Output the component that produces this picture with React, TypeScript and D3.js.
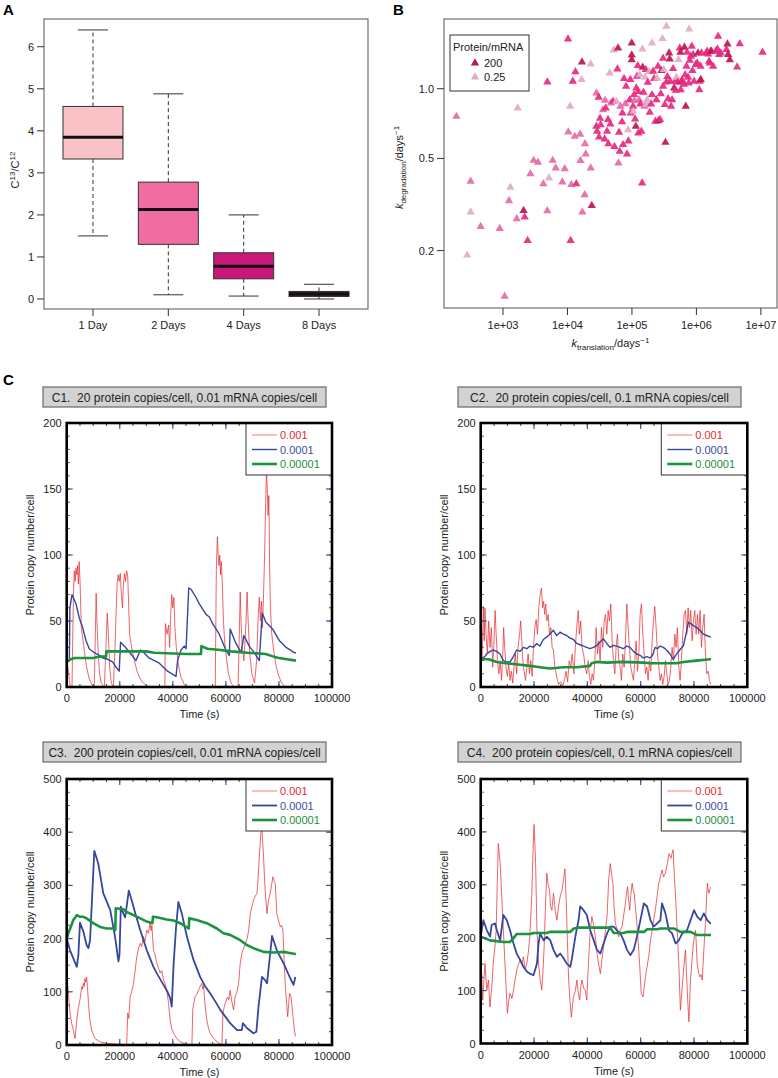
import React from 'react';
import * as d3 from 'd3';

const FONT = "'Liberation Sans', Arial, Helvetica, sans-serif";

// ---------------- Panel A data ----------------
const boxCategories = ['1 Day', '2 Days', '4 Days', '8 Days'];
const boxMin = [1.5, 0.1, 0.07, 0.0];
const boxQ1 = [3.33, 1.3, 0.48, 0.06];
const boxMedian = [3.85, 2.13, 0.78, 0.12];
const boxQ3 = [4.58, 2.78, 1.1, 0.18];
const boxMax = [6.4, 4.88, 2.0, 0.35];
const boxColors = ['#f9c2c6', '#f06ca1', '#c8187c', '#4a1846'];
const boxYTicks = [0, 1, 2, 3, 4, 5, 6];

// ---------------- Panel B data ----------------
// [k_translation, k_degradation, protein/mRNA]
const bPoints: [number, number, number][] = [
  [189, 0.759, 2], [315, 0.398, 2], [315, 0.293, 0.25], [450, 0.254, 2], [279, 0.191, 0.25],
  [890, 0.249, 2], [1060, 0.127, 2], [1300, 0.375, 0.25], [1240, 0.328, 2], [1630, 0.274, 2],
  [1690, 0.825, 0.25], [2090, 0.298, 200], [2170, 0.279, 20], [2410, 0.221, 20], [2660, 0.429, 2],
  [2990, 0.49, 2], [3490, 0.481, 2], [4230, 0.388, 2], [4880, 1.068, 20], [4880, 0.297, 2],
  [5170, 0.411, 0.25], [5900, 0.49, 2], [6570, 0.454, 2], [8330, 0.395, 2], [9060, 0.451, 2],
  [1.02e4, 1.638, 20], [1.03e4, 0.65, 2], [1.12e4, 0.221, 20], [1.1e4, 0.839, 0.25], [1.15e4, 0.385, 2],
  [1.21e4, 1.076, 20], [1.33e4, 1.184, 20], [1.3e4, 0.622, 2], [1.37e4, 0.388, 20], [1.57e4, 0.635, 2],
  [1.68e4, 1.304, 200], [1.66e4, 1.094, 0.25], [1.59e4, 0.489, 2], [1.7e4, 0.293, 2], [1.85e4, 0.348, 2],
  [1.87e4, 0.578, 2], [1.92e4, 0.522, 2], [2.29e4, 0.454, 2], [2.38e4, 0.313, 200], [2.29e4, 1.278, 0.25],
  [2.81e4, 0.958, 2], [2.81e4, 0.688, 20], [2.88e4, 0.654, 20], [3.09e4, 0.618, 20], [3.05e4, 0.918, 20],
  [3.2e4, 0.745, 20], [3.28e4, 0.699, 20], [3.56e4, 0.811, 2], [3.78e4, 0.606, 20], [3.83e4, 0.89, 2],
  [3.92e4, 0.825, 20], [4.11e4, 0.654, 20], [4.26e4, 0.735, 20], [4.31e4, 0.578, 20], [4.52e4, 1.169, 0.25],
  [4.63e4, 0.704, 20], [4.74e4, 0.867, 2], [5.09e4, 0.882, 20], [5.22e4, 1.469, 0.25], [5.35e4, 0.563, 20],
  [5.74e4, 0.882, 0.25], [5.95e4, 1.216, 20], [6.09e4, 1.498, 200], [6.17e4, 0.477, 2], [6.31e4, 0.648, 20],
  [6.47e4, 0.536, 20], [6.62e4, 0.839, 2], [7.03e4, 0.72, 20], [7.11e4, 0.785, 20], [7.28e4, 0.573, 20],
  [7.55e4, 1.105, 20], [7.92e4, 0.861, 2], [8.11e4, 1.023, 20], [8.4e4, 0.522, 20], [8.71e4, 0.665, 0.25],
  [8.81e4, 0.594, 20], [9.24e4, 0.896, 20], [9.46e4, 1.094, 20], [9.57e4, 0.785, 20], [9.93e4, 1.575, 200],
  [9.93e4, 1.398, 200], [9.93e4, 1.334, 200], [1.04e5, 0.839, 20], [1.05e5, 0.798, 0.25], [1.08e5, 0.942, 20],
  [1.09e5, 0.888, 2], [1.12e5, 0.74, 20], [1.15e5, 0.688, 200], [1.17e5, 1.007, 20], [1.2e5, 1.131, 20],
  [1.23e5, 1.257, 20], [1.25e5, 0.971, 20], [1.26e5, 0.643, 20], [1.29e5, 0.896, 2], [1.32e5, 1.149, 0.25],
  [1.35e5, 0.859, 20], [1.4e5, 0.654, 20], [1.44e5, 0.391, 20], [1.45e5, 1.483, 0.25], [1.47e5, 1.236, 200],
  [1.51e5, 0.964, 20], [1.56e5, 0.839, 2], [1.6e5, 1.119, 0.25], [1.64e5, 1.208, 20], [1.68e5, 0.859, 0.25],
  [1.72e5, 0.896, 0.25], [1.76e5, 1.065, 20], [1.85e5, 1.184, 0.25], [1.89e5, 0.79, 20], [1.98e5, 0.859, 20],
  [2.05e5, 1.575, 0.25], [2.05e5, 0.942, 20], [2.13e5, 1.188, 20], [2.21e5, 1.105, 20], [2.31e5, 0.723, 20],
  [2.4e5, 0.896, 20], [2.46e5, 1.108, 0.25], [2.54e5, 1.249, 20], [2.58e5, 0.727, 200], [2.73e5, 0.735, 20],
  [2.8e5, 0.951, 20], [2.87e5, 1.196, 200], [2.97e5, 1.644, 0.25], [3.04e5, 1.352, 20], [3.04e5, 1.023, 20],
  [3.12e5, 1.208, 0.25], [3.23e5, 0.853, 20], [3.31e5, 0.586, 200], [3.43e5, 1.068, 20], [3.43e5, 1.859, 0.25],
  [3.55e5, 1.127, 20], [3.64e5, 0.905, 20], [3.77e5, 1.426, 200], [3.86e5, 1.343, 200], [3.91e5, 1.076, 20],
  [4.05e5, 0.839, 20], [4.2e5, 0.896, 20], [4.35e5, 1.22, 20], [4.51e5, 1.007, 200], [4.67e5, 1.076, 20],
  [4.78e5, 0.983, 20], [4.9e5, 1.119, 0.25], [5.14e5, 1.065, 20], [5.26e5, 1.334, 0.25], [5.52e5, 1.498, 20],
  [5.65e5, 1.435, 200], [5.72e5, 0.99, 20], [5.86e5, 1.076, 200], [6.07e5, 1.083, 20], [6.37e5, 1.044, 20],
  [6.52e5, 1.508, 200], [6.68e5, 1.149, 20], [6.84e5, 0.839, 200], [7.0e5, 1.249, 20], [7.17e5, 1.435, 20],
  [7.43e5, 1.119, 20], [7.62e5, 1.058, 20], [7.71e5, 1.81, 0.25], [7.89e5, 1.326, 20], [8.18e5, 1.379, 20],
  [8.48e5, 1.523, 20], [8.68e5, 1.196, 20], [8.89e5, 1.403, 20], [9.21e5, 1.076, 20], [9.77e5, 1.27, 20],
  [1.03e6, 1.291, 20], [1.06e6, 1.426, 200], [1.11e6, 0.99, 20], [1.13e6, 1.076, 20], [1.16e6, 1.249, 20],
  [1.17e6, 1.094, 200], [1.2e6, 1.426, 20], [1.43e6, 1.426, 20], [1.47e6, 1.45, 20], [1.52e6, 1.412, 20],
  [1.57e6, 1.313, 20], [1.61e6, 1.291, 20], [1.65e6, 1.45, 20], [1.71e6, 1.45, 200], [1.82e6, 1.249, 20],
  [2.0e6, 1.45, 20], [2.12e6, 1.483, 20], [2.17e6, 1.683, 20], [2.25e6, 1.403, 20], [2.39e6, 1.426, 20],
  [2.92e6, 1.474, 20], [3.03e6, 1.559, 200], [3.1e6, 1.403, 200], [3.3e6, 1.334, 200], [4.28e6, 1.24, 20],
  [4.71e6, 1.564, 20], [1.06e7, 1.435, 20],
];
const bXTicks = [1e3, 1e4, 1e5, 1e6, 1e7];
const bXTickLabels = ['1e+03', '1e+04', '1e+05', '1e+06', '1e+07'];
const bYTicks = [0.2, 0.5, 1.0];
const bYTickLabels = ['0.2', '0.5', '1.0'];
const bLegendRatios = [200, 0.25];
const bLegendLabels = ['200', '0.25'];

// ---------------- Panel C data ----------------
type Series = [number, number][];
const legendLabels = ['0.001', '0.0001', '0.00001'];

const c1Red: Series = [
  [0, 28], [500, 15], [1000, 5], [1500, 0], [2000, 0], [2300, 40], [2600, 75], [2900, 88], [3200, 80], [3500, 90],
  [3800, 85], [4100, 92], [4400, 78], [4700, 95], [5000, 82], [5300, 60], [5500, 45], [6000, 38], [6800, 25], [7500, 15],
  [8500, 6], [9800, 1], [10400, 0], [10800, 40], [11100, 71], [11400, 50], [11800, 30], [12300, 12], [13000, 3], [14200, 0],
  [14800, 30], [15300, 56], [15700, 40], [16200, 15], [16800, 3], [17600, 0], [18200, 30], [18600, 55], [19000, 78], [19400, 85],
  [19800, 80], [20200, 86], [20600, 70], [21000, 60], [21400, 78], [21800, 86], [22200, 80], [22600, 88], [23000, 84], [23400, 60],
  [23700, 40], [24500, 30], [25500, 20], [26500, 12], [28000, 5], [30000, 1], [31000, 0], [37000, 0], [37200, 48], [37800, 40],
  [38400, 47], [38800, 30], [39200, 55], [39600, 70], [40000, 60], [40400, 68], [40800, 45], [41300, 30], [42000, 18], [43000, 8],
  [44300, 2], [45500, 0], [56000, 0], [56400, 90], [56800, 114], [57100, 100], [57400, 92], [57700, 100], [58000, 85], [58300, 95],
  [58700, 75], [59100, 50], [59500, 35], [60200, 22], [61000, 10], [62000, 3], [63000, 0], [64600, 0], [65000, 35], [65400, 72],
  [65800, 45], [66200, 30], [66800, 20], [67500, 45], [68000, 72], [68400, 50], [69000, 25], [69800, 10], [70800, 3], [71600, 20],
  [72200, 55], [72600, 68], [73000, 50], [73400, 65], [73800, 45], [74200, 70], [74600, 100], [75000, 140], [75300, 165], [75600, 150],
  [75900, 130], [76200, 145], [76500, 90], [76800, 60], [77300, 40], [78000, 28], [79000, 15], [80000, 8], [81000, 3], [82500, 0],
  [86400, 0],
];
const c1Blue: Series = [
  [0, 20], [1000, 20], [1200, 60], [2000, 70], [3500, 63], [4800, 52], [6000, 45], [7300, 35], [8500, 29], [10400, 26],
  [12300, 24], [13600, 22], [15500, 21], [17300, 19], [18600, 15], [19800, 12], [20300, 34], [21700, 31], [23000, 28], [24200, 25],
  [26100, 20], [27800, 28], [28600, 27], [31000, 22], [34900, 18], [38000, 12], [41200, 8], [41800, 20], [43100, 28], [44300, 31],
  [45000, 29], [46000, 75], [46900, 74], [48700, 68], [50000, 63], [52500, 55], [53800, 53], [55000, 48], [57500, 40], [60000, 28],
  [61300, 24], [61600, 44], [63800, 33], [65700, 26], [66800, 39], [68800, 31], [70700, 26], [72600, 20], [73700, 56], [75100, 49],
  [77600, 44], [80200, 35], [82700, 30], [85800, 26], [86400, 26],
];
const c1Green: Series = [
  [0, 19], [1500, 21], [3000, 22], [10000, 22], [12000, 23], [14800, 23], [15000, 27], [30000, 27], [33000, 26], [45000, 25],
  [50600, 25], [50800, 31], [53000, 29], [58000, 28], [62000, 27], [68000, 26], [75000, 25], [78000, 23], [80000, 22], [83000, 21],
  [86400, 20],
];

const c2Red: Series = [
  [0, 30], [500, 20], [1000, 61], [1300, 35], [1600, 60], [2000, 40], [2500, 25], [3000, 50], [3500, 30], [4000, 45],
  [4500, 15], [5000, 35], [5400, 58], [5800, 40], [6300, 20], [6800, 10], [7300, 20], [7800, 5], [8300, 25], [8600, 45],
  [9000, 30], [9500, 15], [10000, 8], [10500, 18], [11000, 5], [11500, 12], [12000, 3], [12500, 15], [13000, 25], [13500, 10],
  [14000, 30], [14600, 40], [15000, 50], [15400, 35], [15800, 20], [16300, 12], [16800, 5], [17300, 15], [17800, 25], [18300, 10],
  [18800, 20], [19300, 8], [19800, 30], [20300, 45], [20800, 51], [21300, 40], [21800, 60], [22300, 70], [22800, 75], [23200, 60],
  [23600, 65], [24000, 55], [24400, 63], [24800, 50], [25300, 55], [25800, 40], [26300, 45], [26800, 30], [27300, 28], [27800, 15],
  [28300, 10], [28800, 5], [29300, 2], [30000, 4], [30800, 1], [31500, 6], [32000, 12], [32600, 4], [33200, 20], [33800, 15],
  [34300, 25], [35000, 10], [35500, 30], [36000, 45], [36600, 58], [37000, 40], [37500, 50], [38000, 30], [38600, 25], [39200, 15],
  [39800, 10], [40300, 20], [40800, 8], [41300, 2], [41800, 10], [42300, 5], [42800, 20], [43300, 45], [43800, 25], [44300, 35],
  [44800, 20], [45300, 45], [45800, 30], [46300, 50], [46800, 55], [47300, 40], [47800, 58], [48300, 50], [48800, 63], [49300, 35],
  [49800, 20], [50300, 10], [50800, 30], [51300, 40], [51800, 20], [52300, 15], [52800, 5], [53300, 25], [53800, 15], [54300, 35],
  [54800, 63], [55300, 45], [55800, 30], [56300, 15], [56800, 10], [57300, 5], [57800, 20], [58300, 35], [58800, 12], [59300, 25],
  [59800, 55], [60300, 63], [60800, 40], [61300, 25], [61800, 10], [62300, 15], [62800, 5], [63300, 20], [63800, 12], [64300, 35],
  [64800, 50], [65300, 61], [65800, 45], [66300, 25], [66800, 15], [67300, 5], [67800, 10], [68300, 2], [68800, 8], [69300, 20],
  [69800, 10], [70300, 2], [70800, 5], [71300, 15], [71800, 30], [72300, 20], [72800, 40], [73300, 30], [73800, 45], [74300, 15],
  [74800, 5], [75300, 20], [75800, 40], [76300, 55], [76800, 58], [77300, 40], [77800, 60], [78300, 45], [78800, 58], [79300, 35],
  [79800, 50], [80300, 58], [80800, 40], [81300, 55], [81800, 40], [82300, 58], [82800, 30], [83300, 45], [83800, 55], [84300, 25],
  [84800, 10], [85300, 12], [85800, 5], [86300, 2],
];
const c2Blue: Series = [
  [0, 21], [1500, 23], [2250, 25], [3500, 27], [4750, 28], [6000, 27], [7250, 25], [8500, 20], [9750, 19], [11000, 19],
  [12250, 23], [13500, 28], [14800, 27], [16000, 30], [17300, 29], [18500, 31], [19800, 30], [21000, 33], [22200, 31], [23500, 36],
  [24800, 38], [26000, 40], [27250, 43], [28500, 39], [29750, 41.5], [31000, 40], [32250, 39], [33500, 37], [34800, 36], [36000, 33],
  [37300, 32], [38500, 31], [39800, 30], [41000, 29], [42300, 30], [43500, 31.5], [44800, 34], [46000, 36.5], [47300, 33], [48500, 30],
  [49800, 31.5], [51000, 31], [52300, 30], [53500, 29], [54800, 31], [56000, 30], [57300, 27], [58500, 25], [59800, 24], [61000, 22],
  [62300, 23], [63500, 22], [64500, 24], [65400, 30], [66300, 29], [67250, 31], [68500, 30], [69750, 28], [71000, 25], [72250, 21],
  [73100, 24], [74100, 26.5], [75000, 29], [76000, 31], [77000, 40], [77900, 49], [78800, 48], [79750, 46.5], [81000, 45], [82250, 43],
  [83500, 40], [84750, 39], [86000, 38], [86400, 38],
];
const c2Green: Series = [
  [0, 21], [3000, 21], [6000, 19], [9700, 18], [14000, 17], [18500, 16], [22300, 15], [26000, 14], [31000, 15], [36000, 15],
  [41000, 16], [41600, 18], [43500, 19], [47300, 18.5], [53000, 19], [61000, 18.5], [63500, 18], [70000, 18], [73500, 18], [76000, 19],
  [81000, 20], [86000, 21], [86400, 21],
];

const c3Red: Series = [
  [0, 141], [600, 100], [1260, 60], [1900, 40], [2500, 28], [3100, 12], [3500, 30], [3800, 47], [4400, 70], [5000, 85],
  [5400, 100], [5700, 110], [6000, 105], [6300, 116], [6600, 110], [6900, 125], [7200, 118], [7500, 128], [7800, 110], [8200, 80],
  [8600, 53], [9400, 28], [10700, 12], [12600, 6], [15100, 3], [20100, 1], [22600, 0], [23000, 60], [23400, 50], [23900, 91],
  [24500, 100], [25200, 116], [25800, 140], [26400, 166], [27000, 180], [27700, 191], [28300, 185], [28900, 204], [29500, 195], [30200, 216],
  [30800, 210], [31400, 229], [31800, 215], [32100, 225], [32700, 178], [33300, 170], [34000, 153], [34600, 145], [35200, 135], [35800, 140],
  [36500, 122], [37100, 115], [37700, 103], [38400, 78], [39000, 47], [39600, 30], [40300, 22], [41500, 12], [42800, 6], [45300, 1],
  [47200, 0], [47500, 66], [48000, 80], [48400, 91], [49000, 95], [49700, 103], [50300, 110], [50900, 116], [51300, 105], [51600, 112],
  [52200, 72], [52800, 47], [53500, 30], [54100, 22], [55500, 12], [56600, 6], [58500, 0], [58900, 60], [59300, 70], [59700, 78],
  [60600, 90], [61100, 85], [61600, 103], [62300, 80], [62900, 66], [63500, 91], [64200, 100], [64800, 116], [65400, 153], [66000, 172],
  [66600, 180], [67300, 191], [68000, 200], [68600, 216], [69200, 247], [69800, 260], [70400, 272], [71100, 280], [71700, 285], [72000, 300],
  [72300, 329], [72800, 370], [73200, 398], [73600, 404], [73900, 380], [74200, 354], [74500, 320], [74800, 291], [75200, 265], [75500, 247],
  [76000, 270], [76700, 285], [77200, 300], [77700, 316], [78200, 308], [78600, 304], [79200, 247], [79800, 235], [80500, 222], [81000, 225],
  [81500, 216], [82000, 153], [82400, 110], [82800, 85], [83300, 53], [83700, 80], [84000, 97], [84500, 92], [84900, 75], [85300, 53],
  [85800, 30], [86200, 16],
];
const c3Blue: Series = [
  [0, 200], [1260, 178], [2500, 163], [3800, 147], [4400, 169], [5000, 230], [6300, 213], [7500, 188], [8200, 182], [8800, 197],
  [9600, 280], [10400, 365], [11900, 341], [13800, 285], [16400, 254], [18200, 204], [19500, 157], [19900, 170], [20400, 260], [21400, 247],
  [22000, 240], [22600, 260], [23400, 290], [24500, 272], [26000, 245], [27700, 216], [30200, 178], [32700, 147], [34500, 130], [36500, 113],
  [38000, 100], [39000, 88], [39600, 72], [40300, 153], [41200, 220], [42100, 269], [43400, 247], [45300, 204], [47800, 160], [50300, 128],
  [52000, 112], [54100, 97], [56000, 82], [57900, 66], [60000, 52], [61600, 41], [64200, 28], [66000, 28], [66400, 41], [67900, 32],
  [70400, 22], [71500, 25], [72300, 72], [73600, 128], [74800, 122], [75500, 116], [76700, 172], [77400, 205], [79200, 178], [81800, 153],
  [84300, 125], [85500, 113], [86200, 128],
];
const c3Green: Series = [
  [0, 200], [600, 210], [1300, 219], [2500, 235], [3800, 244], [5000, 241], [6300, 241], [7500, 238], [10000, 229], [12600, 222],
  [15100, 219], [17600, 219], [18300, 216], [18500, 257], [21400, 255], [22600, 250], [25200, 244], [27700, 238], [30200, 232], [32300, 229],
  [32500, 241], [34000, 240], [37700, 236], [40300, 234], [42800, 229], [46000, 219], [46200, 238], [49000, 235], [52800, 229], [56600, 219],
  [59100, 210], [61600, 207], [65400, 197], [67900, 188], [70400, 182], [74200, 175], [78000, 174], [81800, 175], [84000, 173], [86200, 171],
  [86400, 171],
];

const c4Red: Series = [
  [0, 183], [750, 82], [1200, 120], [1600, 151], [2300, 101], [2900, 120], [3500, 69], [4200, 110], [4800, 158], [5300, 180],
  [5800, 214], [6200, 300], [6600, 378], [7300, 340], [7900, 277], [8500, 214], [9100, 151], [9500, 110], [10000, 57], [10500, 80],
  [11000, 95], [11700, 85], [12300, 101], [12900, 120], [13500, 139], [14200, 150], [14800, 158], [15400, 150], [16000, 164], [16700, 140],
  [17300, 151], [17800, 170], [18300, 195], [18800, 240], [19200, 284], [19600, 360], [20000, 414], [20300, 380], [20600, 340], [21100, 214],
  [21700, 151], [22300, 120], [22900, 101], [23400, 140], [23800, 183], [24300, 260], [24800, 322], [25300, 300], [25800, 290], [26200, 260],
  [26700, 252], [27300, 284], [28000, 250], [28600, 233], [29200, 260], [29800, 277], [30500, 290], [31100, 312], [31600, 330], [32100, 265],
  [32600, 180], [33000, 120], [33500, 80], [34000, 50], [34400, 70], [34800, 88], [35500, 100], [36100, 120], [36600, 95], [37100, 82],
  [37600, 110], [38000, 120], [38600, 105], [39200, 101], [39800, 82], [40400, 150], [41100, 214], [41700, 240], [42300, 225], [43000, 202],
  [43600, 170], [44200, 151], [44900, 132], [45500, 160], [46100, 183], [46800, 215], [47400, 240], [48000, 309], [48600, 340], [49100, 320],
  [49600, 303], [50000, 260], [50500, 227], [51200, 215], [51800, 202], [52400, 215], [53000, 221], [53700, 245], [54300, 265], [54700, 285],
  [55100, 296], [55500, 270], [55900, 252], [56300, 280], [56800, 303], [57200, 290], [57600, 284], [58100, 255], [58600, 227], [59100, 190],
  [59600, 151], [60200, 95], [60900, 88], [61400, 110], [61800, 126], [62400, 145], [63000, 164], [63600, 190], [64300, 214], [64900, 235],
  [65500, 252], [66200, 280], [66800, 303], [67400, 315], [68000, 328], [68600, 315], [69300, 322], [70000, 340], [70600, 359], [71400, 350],
  [71800, 360], [72200, 366], [72400, 340], [73100, 277], [73700, 214], [74300, 151], [74900, 63], [75400, 95], [75900, 126], [76300, 150],
  [76800, 177], [77300, 120], [77700, 76], [78100, 41], [78400, 80], [78700, 120], [79300, 160], [79900, 195], [80600, 214], [81200, 151],
  [81700, 135], [82200, 126], [82700, 130], [83100, 120], [83700, 177], [84300, 227], [85000, 303], [85300, 290], [85600, 284], [86200, 296],
];
const c4Blue: Series = [
  [0, 202], [1000, 233], [2300, 214], [3500, 202], [4100, 224], [5400, 227], [6000, 215], [7300, 195], [8500, 243], [9800, 233],
  [11000, 214], [12300, 189], [13500, 170], [14800, 158], [16000, 145], [17300, 136], [18500, 132], [19800, 129], [21100, 151], [21700, 189],
  [22300, 208], [23600, 195], [24800, 202], [26100, 195], [27300, 177], [28600, 164], [29800, 170], [31100, 161], [32300, 151], [33600, 145],
  [34200, 160], [35500, 202], [36700, 233], [37300, 259], [38600, 252], [39800, 243], [41100, 214], [42400, 195], [43600, 177], [44900, 170],
  [46100, 189], [47400, 208], [48600, 221], [49900, 221], [51100, 214], [52400, 208], [53600, 195], [54900, 177], [56100, 167], [57400, 177],
  [58600, 202], [59900, 233], [61200, 265], [62400, 259], [63700, 233], [64900, 221], [66200, 227], [67400, 233], [68000, 265], [69300, 246],
  [70600, 214], [71800, 208], [73100, 189], [74300, 195], [75600, 208], [77400, 214], [78700, 233], [80000, 252], [81200, 240], [82500, 233],
  [83700, 246], [85000, 233], [86200, 227], [86400, 227],
];
const c4Green: Series = [
  [0, 202], [3500, 195], [8500, 192], [11000, 192], [12300, 199], [13500, 207], [18500, 207], [19800, 209], [24800, 209], [26000, 211],
  [33600, 211], [34800, 217], [36100, 219], [48600, 219], [49900, 209], [53600, 209], [54900, 211], [61200, 211], [62400, 216], [66200, 216],
  [67400, 217.5], [72400, 217.5], [74900, 211], [78700, 211], [81200, 205], [86400, 205],
];

// ---------------- Panel A ----------------
function PanelA() {
  const left = 44, right = 368, top = 19, bottom = 309;
  const x = d3.scalePoint<string>().domain(boxCategories).range([left, right]).padding(0.65);
  const y = d3.scaleLinear().domain([-0.238, 6.66]).range([bottom, top]);
  const bw = 60;
  return (
    <g fontFamily={FONT}>
      <text x={3} y={15} fontSize={15} fontWeight="bold">A</text>
      {boxCategories.map((c, i) => {
        const cx = x(c)!;
        return (
          <g key={c}>
            <line x1={cx} x2={cx} y1={y(boxQ3[i])} y2={y(boxMax[i])} stroke="#333" strokeDasharray="4,3" />
            <line x1={cx} x2={cx} y1={y(boxQ1[i])} y2={y(boxMin[i])} stroke="#333" strokeDasharray="4,3" />
            <line x1={cx - bw / 4} x2={cx + bw / 4} y1={y(boxMax[i])} y2={y(boxMax[i])} stroke="#333" />
            <line x1={cx - bw / 4} x2={cx + bw / 4} y1={y(boxMin[i])} y2={y(boxMin[i])} stroke="#333" />
            <rect x={cx - bw / 2} y={y(boxQ3[i])} width={bw} height={y(boxQ1[i]) - y(boxQ3[i])} fill={boxColors[i]} stroke="#333" />
            <line x1={cx - bw / 2} x2={cx + bw / 2} y1={y(boxMedian[i])} y2={y(boxMedian[i])} stroke="#111" strokeWidth={3} />
            <line x1={cx} x2={cx} y1={bottom} y2={bottom + 7} stroke="#333" />
            <text x={cx} y={bottom + 20} fontSize={11} textAnchor="middle" fill="#222">{c}</text>
          </g>
        );
      })}
      <rect x={left} y={top} width={right - left} height={bottom - top} fill="none" stroke="#555" />
      {boxYTicks.map((t) => (
        <g key={t}>
          <line x1={left - 7} x2={left} y1={y(t)} y2={y(t)} stroke="#333" />
          <text x={left - 10} y={y(t) + 4} fontSize={11} textAnchor="end" fill="#222">{t}</text>
        </g>
      ))}
      <text transform={`translate(19,${(top + bottom) / 2 + 6}) rotate(-90)`} fontSize={11} textAnchor="middle" fill="#222">
        <tspan>C</tspan><tspan fontSize={8} dy={-4}>13</tspan><tspan dy={4}>/C</tspan><tspan fontSize={8} dy={-4}>12</tspan>
      </text>
    </g>
  );
}

// ---------------- Panel B ----------------
function PanelB() {
  const left = 444, right = 777, top = 19, bottom = 308;
  const x = d3.scaleLog().domain([Math.pow(10, 2.085), Math.pow(10, 7.25)]).range([left, right]);
  const y = d3.scaleLog().domain([0.113, 2.0]).range([bottom, top]);
  const color = d3.scaleLog<string>().domain([0.25, 2, 20, 200]).range(['#e3abc9', '#e46aa6', '#e8287f', '#bd1650']).interpolate(d3.interpolateRgb);
  const tri = d3.symbol().type(d3.symbolTriangle).size(30)()!;
  return (
    <g fontFamily={FONT}>
      <text x={393} y={15} fontSize={15} fontWeight="bold">B</text>
      <rect x={left} y={top} width={right - left} height={bottom - top} fill="none" stroke="#555" />
      {bPoints.map((p, i) => (
        <path key={i} d={tri} transform={`translate(${x(p[0])},${y(p[1])})`} fill={color(p[2])} opacity={0.92} />
      ))}
      {bXTicks.map((t, i) => (
        <g key={t}>
          <line x1={x(t)} x2={x(t)} y1={bottom} y2={bottom + 7} stroke="#333" />
          <text x={x(t)} y={bottom + 21} fontSize={11} textAnchor="middle" fill="#222">{bXTickLabels[i]}</text>
        </g>
      ))}
      {bYTicks.map((t, i) => (
        <g key={t}>
          <line x1={left - 7} x2={left} y1={y(t)} y2={y(t)} stroke="#333" />
          <text x={left - 10} y={y(t) + 4} fontSize={11} textAnchor="end" fill="#222">{bYTickLabels[i]}</text>
        </g>
      ))}
      <text x={(left + right) / 2} y={347} fontSize={11} textAnchor="middle" fill="#222">
        <tspan fontStyle="italic">k</tspan><tspan fontSize={8} dy={3}>translation</tspan><tspan dy={-3}>/days</tspan><tspan fontSize={8} dy={-4}>−1</tspan>
      </text>
      <text transform={`translate(403,${(top + bottom) / 2 + 4}) rotate(-90)`} fontSize={11} textAnchor="middle" fill="#222">
        <tspan fontStyle="italic">k</tspan><tspan fontSize={8} dy={3}>degradation</tspan><tspan dy={-3}>/days</tspan><tspan fontSize={8} dy={-4}>−1</tspan>
      </text>
      <rect x={450} y={35} width={79} height={56} fill="white" stroke="#333" />
      <text x={453} y={51} fontSize={11} fill="#222">Protein/mRNA</text>
      {bLegendRatios.map((r, i) => (
        <g key={r}>
          <path d={tri} transform={`translate(475,${63 + i * 14})`} fill={color(r)} />
          <text x={484} y={67 + i * 14} fontSize={11} fill="#222">{bLegendLabels[i]}</text>
        </g>
      ))}
    </g>
  );
}

// ---------------- Panel C ----------------
type TraceProps = {
  id: string; left: number; right: number; top: number; bottom: number;
  yMax: number; yMajor: number; yMinor: number; title: string;
  headerLeft: number; headerRight: number; headerTop: number;
  red: Series; blue: Series; green: Series; blueWidth: number;
};

function TracePanel(p: TraceProps) {
  const x = d3.scaleLinear().domain([0, 100000]).range([p.left, p.right]);
  const y = d3.scaleLinear().domain([0, p.yMax]).range([p.bottom, p.top]);
  const xMajor = d3.range(0, 100001, 20000);
  const xMinor = d3.range(0, 100001, 5000);
  const yMajorT = d3.range(0, p.yMax + 1, p.yMajor);
  const yMinorT = d3.range(0, p.yMax + 1, p.yMinor);
  const lin = d3.line<[number, number]>().x((d) => x(d[0])).y((d) => y(d[1]));
  const lx = p.right - 86, ly = p.top;
  const tickBlue = '#3f51a3';
  return (
    <g fontFamily={FONT}>
      <defs>
        <clipPath id={p.id}>
          <rect x={p.left} y={p.top} width={p.right - p.left} height={p.bottom - p.top} />
        </clipPath>
      </defs>
      <rect x={p.headerLeft} y={p.headerTop} width={p.headerRight - p.headerLeft} height={20} fill="#d2d2d2" stroke="#6a6a6a" strokeWidth={1.2} />
      <text x={(p.headerLeft + p.headerRight) / 2} y={p.headerTop + 14.5} fontSize={12} textAnchor="middle" fill="#222" style={{ whiteSpace: 'pre' }}>{p.title}</text>
      <g clipPath={`url(#${p.id})`}>
        <path d={lin(p.red)!} fill="none" stroke="#e52a30" strokeWidth={0.8} strokeOpacity={0.9} />
        <path d={lin(p.blue)!} fill="none" stroke="#3447a0" strokeWidth={p.blueWidth} strokeLinejoin="round" />
        <path d={lin(p.green)!} fill="none" stroke="#1b933f" strokeWidth={2.6} strokeLinejoin="round" />
      </g>
      {xMinor.map((t) => (
        <g key={'xm' + t}>
          <line x1={x(t)} x2={x(t)} y1={p.bottom} y2={p.bottom - 3} stroke="#444" />
          <line x1={x(t)} x2={x(t)} y1={p.top} y2={p.top + 3} stroke="#444" />
        </g>
      ))}
      {yMinorT.map((t) => (
        <g key={'ym' + t}>
          <line x1={p.left} x2={p.left + 3} y1={y(t)} y2={y(t)} stroke="#444" />
          <line x1={p.right} x2={p.right - 3} y1={y(t)} y2={y(t)} stroke="#444" />
        </g>
      ))}
      {xMajor.map((t) => (
        <g key={'xM' + t}>
          <line x1={x(t)} x2={x(t)} y1={p.bottom} y2={p.bottom - 6} stroke={tickBlue} strokeWidth={1.2} />
          <line x1={x(t)} x2={x(t)} y1={p.top} y2={p.top + 6} stroke={tickBlue} strokeWidth={1.2} />
          <text x={x(t)} y={p.bottom + 15} fontSize={11} textAnchor="middle" fill="#222">{d3.format('d')(t)}</text>
        </g>
      ))}
      {yMajorT.map((t) => (
        <g key={'yM' + t}>
          <line x1={p.left} x2={p.left + 6} y1={y(t)} y2={y(t)} stroke={tickBlue} strokeWidth={1.2} />
          <line x1={p.right} x2={p.right - 6} y1={y(t)} y2={y(t)} stroke={tickBlue} strokeWidth={1.2} />
          <text x={p.left - 5} y={y(t) + 4} fontSize={11} textAnchor="end" fill="#222">{t}</text>
        </g>
      ))}
      <rect x={lx} y={ly} width={86} height={52} fill="white" stroke="#333" />
      {[
        { c: '#f07a7e', w: 1, t: '#e52a30' },
        { c: '#3447a0', w: p.blueWidth, t: '#3a4ca0' },
        { c: '#1b933f', w: 2.6, t: '#1b8f3e' },
      ].map((e, i) => {
        const yy = ly + 12 + i * 14.5;
        return (
          <g key={i}>
            <line x1={lx + 6} x2={lx + 31} y1={yy} y2={yy} stroke={e.c} strokeWidth={e.w} />
            <text x={lx + 34} y={yy + 4} fontSize={11} fill={e.t}>{legendLabels[i]}</text>
          </g>
        );
      })}
      <rect x={p.left} y={p.top} width={p.right - p.left} height={p.bottom - p.top} fill="none" stroke="#000" strokeWidth={2.6} />
      <text x={(p.left + p.right) / 2} y={p.bottom + 31} fontSize={11} textAnchor="middle" fill="#222">Time (s)</text>
      <text transform={`translate(${p.left - 33},${(p.top + p.bottom) / 2}) rotate(-90)`} fontSize={11} textAnchor="middle" fill="#222">Protein copy number/cell</text>
    </g>
  );
}

export default function App() {
  return (
    <svg width={778} height={1078} style={{ position: 'absolute', left: 0, top: 0, background: 'white' }}>
      <rect x={0} y={0} width={778} height={1078} fill="white" />
      <PanelA />
      <PanelB />
      <text x={3} y={385} fontSize={15} fontWeight="bold" fontFamily={FONT}>C</text>
      <TracePanel id="c1" left={66.7} right={332} top={423} bottom={687} yMax={200} yMajor={50} yMinor={10}
        title="C1.  20 protein copies/cell, 0.01 mRNA copies/cell" headerLeft={43} headerRight={326} headerTop={387}
        red={c1Red} blue={c1Blue} green={c1Green} blueWidth={1.4} />
      <TracePanel id="c2" left={480.7} right={747.3} top={423} bottom={687} yMax={200} yMajor={50} yMinor={10}
        title="C2.  20 protein copies/cell, 0.1 mRNA copies/cell" headerLeft={458} headerRight={741} headerTop={387}
        red={c2Red} blue={c2Blue} green={c2Green} blueWidth={1.4} />
      <TracePanel id="c3" left={66.7} right={332} top={779} bottom={1045} yMax={500} yMajor={100} yMinor={25}
        title="C3.  200 protein copies/cell, 0.01 mRNA copies/cell" headerLeft={43} headerRight={326} headerTop={742}
        red={c3Red} blue={c3Blue} green={c3Green} blueWidth={1.8} />
      <TracePanel id="c4" left={480.7} right={747.3} top={779} bottom={1043.5} yMax={500} yMajor={100} yMinor={25}
        title="C4.  200 protein copies/cell, 0.1 mRNA copies/cell" headerLeft={458} headerRight={741} headerTop={742}
        red={c4Red} blue={c4Blue} green={c4Green} blueWidth={1.8} />
    </svg>
  );
}
